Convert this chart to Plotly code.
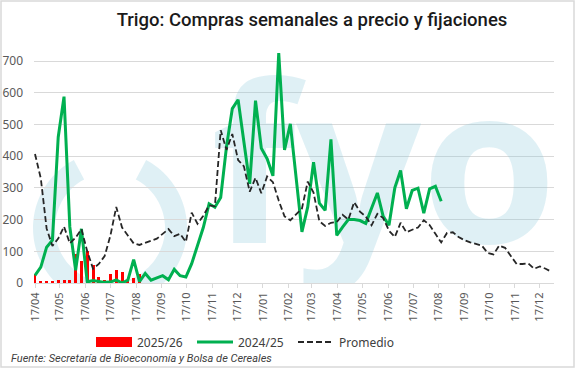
import numpy as np
import pandas as pd
import plotly.graph_objects as go

# ---------------- data (weekly, first week = 17/04) ----------------
start_date = "2024-04-17"

promedio = [407, 330, 172, 117, 140, 178, 125, 143, 170, 100,
            45, 60, 85, 150, 240, 175, 150, 125, 120, 127,
            132, 140, 155, 170, 148, 155, 130, 222, 187, 212,
            245, 242, 482, 420, 470, 388, 368, 288, 332, 283,
            336, 318, 260, 210, 198, 215, 235, 320, 285, 195,
            180, 190, 192, 215, 200, 255, 225, 210, 182, 218,
            205, 165, 145, 190, 160, 168, 175, 198, 183, 155,
            128, 158, 160, 145, 135, 128, 124, 118, 95, 90,
            118, 111, 85, 60, 60, 62, 45, 52, 45, 35]

campana_2425 = [24, 50, 113, 135, 460, 588, 177, 40, 171, 3,
                8, 4, 2, 3, 10, 0, 9, 74, 4, 30,
                9, 16, 23, 10, 43, 23, 19, 61, 120, 175,
                250, 239, 270, 430, 550, 578, 445, 313, 575, 425,
                392, 338, 725, 420, 502, 330, 161, 240, 381, 252,
                229, 453, 150, 176, 200, 200, 197, 188, 235, 284,
                210, 182, 300, 355, 234, 292, 299, 220, 297, 305,
                258]

campana_2526 = [28, 5, 7, 5, 8, 10, 9, 92, 70, 100,
                57, 20, 10, 27, 40, 36, 8, 17, 28]

tick_dates = ["2024-04-17", "2024-05-17", "2024-06-17", "2024-07-17", "2024-08-17",
              "2024-09-17", "2024-10-17", "2024-11-17", "2024-12-17", "2025-01-17",
              "2025-02-17", "2025-03-17", "2025-04-17", "2025-05-17", "2025-06-17",
              "2025-07-17", "2025-08-17", "2025-09-17", "2025-10-17", "2025-11-17",
              "2025-12-17"]
tick_labels = ["17/04", "17/05", "17/06", "17/07", "17/08", "17/09", "17/10", "17/11",
               "17/12", "17/01", "17/02", "17/03", "17/04", "17/05", "17/06", "17/07",
               "17/08", "17/09", "17/10", "17/11", "17/12"]

y_ticks = [0, 100, 200, 300, 400, 500, 600, 700]

dates = pd.date_range(start_date, periods=len(promedio), freq="7D")

# ---------------- layout geometry helpers (pixels) ----------------
W, H = 576, 368
PL, PR, PT, PB = 34, 554, 50, 283          # plot area in pixels
Y_MAX = 735
PX_PER_DAY = 0.829
X0_PX = 35                                 # pixel of first date


def px_to_date(px):
    return pd.Timestamp(start_date) + pd.Timedelta(days=(px - X0_PX) / PX_PER_DAY)


def py_to_val(py):
    return (PB - py) / (PB - PT) * Y_MAX


def paper(px, py):
    return (px - PL) / (PR - PL), (PB - py) / (PB - PT)


WM = "rgba(140,200,218,0.28)"

fig = go.Figure()

# watermark letters (drawn first so every series lies on top)
fig.add_trace(go.Scatter(
    x=[px_to_date(384)], y=[py_to_val(188)], text=["fyo"], mode="text",
    textfont=dict(family="Open Sans", size=220, color=WM, weight=700),
    hoverinfo="skip", showlegend=False, cliponaxis=True))

fig.add_trace(go.Bar(
    x=dates[:len(campana_2526)], y=campana_2526, name="2025/26",
    marker=dict(color="#ff0000", line=dict(width=0)),
    width=3.6 * 86400000, showlegend=False))

fig.add_trace(go.Scatter(
    x=dates[:len(campana_2425)], y=campana_2425, name="2024/25", mode="lines",
    line=dict(color="#00b050", width=3), legendrank=2))

fig.add_trace(go.Scatter(
    x=dates, y=promedio, name="Promedio", mode="lines",
    line=dict(color="#262626", width=1.8, dash="6px,3px"), legendrank=3))

# legend-only entry to show the wide red swatch
fig.add_trace(go.Scatter(
    x=[None], y=[None], name="2025/26", mode="lines",
    line=dict(color="#ff0000", width=11), legendrank=1))

# watermark ring arcs
shapes = []
cx, cy, ro, ri = 110, 228, 77, 55
for a0, a1 in [(118, 250), (-70, 62)]:
    th = np.radians(np.linspace(a0, a1, 60))
    outer = [(cx + ro * np.cos(t), min(cy - ro * np.sin(t), PB)) for t in th]
    inner = [(cx + ri * np.cos(t), min(cy - ri * np.sin(t), PB)) for t in th[::-1]]
    pts = [paper(px, py) for px, py in outer + inner]
    path = "M " + " L ".join(f"{x:.4f},{y:.4f}" for x, y in pts) + " Z"
    shapes.append(dict(type="path", xref="paper", yref="paper", path=path,
                       fillcolor=WM, line=dict(width=0), layer="below"))

# outer frame
bx0, by0 = paper(1, H - 1)
bx1, by1 = paper(W - 2, 1)
shapes.append(dict(type="rect", xref="paper", yref="paper", x0=bx0, y0=by0,
                   x1=bx1, y1=by1, line=dict(color="#d9d9d9", width=1.5),
                   fillcolor="rgba(0,0,0,0)", layer="above"))

lx, ly = paper(91, 342)
sx, sy = paper(9, 358)

fig.update_layout(
    width=W, height=H,
    margin=dict(l=PL, r=W - PR, t=PT, b=H - PB, pad=0, autoexpand=False),
    paper_bgcolor="white", plot_bgcolor="white",
    title=dict(text="Trigo: Compras semanales a precio y fijaciones",
               x=312 / W, xanchor="center", xref="container",
               y=1 - 20 / H, yanchor="middle", yref="container",
               font=dict(family="Roboto", size=18.5, color="#1a1a1a", weight=500)),
    xaxis=dict(type="date", range=[px_to_date(PL), px_to_date(PR)],
               tickvals=tick_dates, ticktext=tick_labels, tickangle=-90,
               tickfont=dict(family="Noto Sans", size=11, color="#595959"),
               ticks="outside", ticklen=4, tickcolor="#d9d9d9",
               showline=True, linecolor="#d9d9d9", linewidth=1,
               showgrid=False, zeroline=False),
    yaxis=dict(range=[0, Y_MAX], tickvals=y_ticks,
               tickfont=dict(family="Noto Sans", size=12, color="#595959"),
               showgrid=True, gridcolor="#d9d9d9", gridwidth=1,
               zeroline=False, showline=False, ticks="", ticklabelstandoff=10),
    bargap=0,
    legend=dict(orientation="h", x=lx, y=ly, xanchor="left", yanchor="middle",
                font=dict(family="Noto Sans", size=12, color="#404040"),
                itemwidth=36, entrywidth=50, entrywidthmode="pixels",
                bgcolor="rgba(0,0,0,0)", traceorder="normal"),
    annotations=[dict(text="<i>Fuente: Secretaría de Bioeconomía y Bolsa de Cereales</i>",
                      xref="paper", yref="paper", x=sx, y=sy,
                      xanchor="left", yanchor="middle", showarrow=False,
                      font=dict(family="Roboto", size=11, color="#404040"))],
    shapes=shapes,
    showlegend=True,
)

fig.write_html("out.html", config={"displayModeBar": False},
               post_script="document.body.style.margin='0';")
